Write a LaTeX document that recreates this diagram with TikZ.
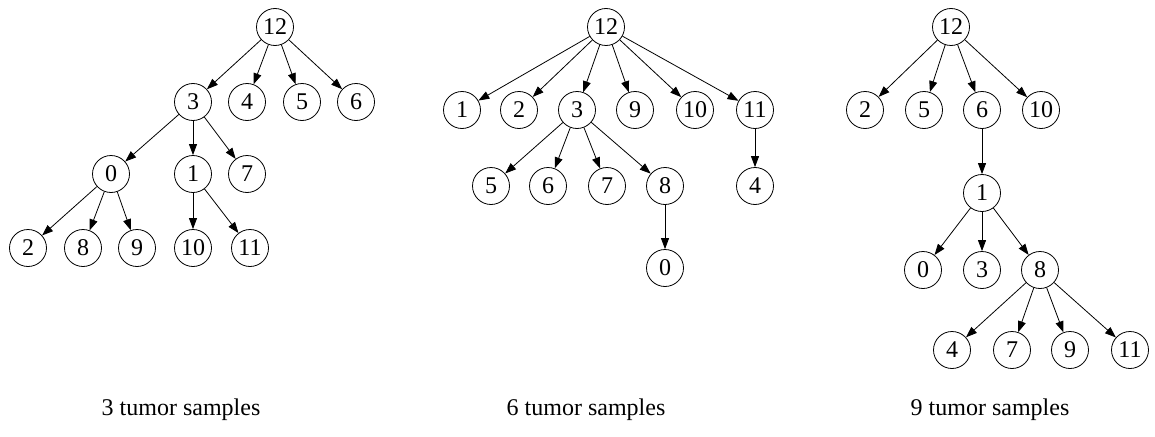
\documentclass[tikz,border=0pt]{standalone}
\usepackage{fontspec}
\setmainfont{Liberation Serif}
\usetikzlibrary{arrows.meta}
\tikzset{
  tn/.style={draw, circle, minimum size=37pt, inner sep=0pt, line width=0.8pt, font=\fontsize{24}{26}\selectfont},
  edge/.style={line width=0.8pt, -{Triangle[length=11pt,width=8pt]}},
  captext/.style={font=\fontsize{24}{28}\selectfont, anchor=center}
}
\begin{document}
\begin{tikzpicture}[x=1pt,y=-1pt]
\useasboundingbox (0,0) rectangle (1155,436);
% Tree 1
\node[tn] (a12) at (275,27) {12};
\node[tn] (a3) at (193,102) {3};
\node[tn] (a4) at (247,102) {4};
\node[tn] (a5) at (302,102) {5};
\node[tn] (a6) at (356,102) {6};
\node[tn] (a0) at (111,174) {0};
\node[tn] (a1) at (193,174) {1};
\node[tn] (a7) at (247,174) {7};
\node[tn] (a2) at (28,248) {2};
\node[tn] (a8) at (83,248) {8};
\node[tn] (a9) at (137,248) {9};
\node[tn] (a10) at (193,248) {10};
\node[tn] (a11) at (250,248) {11};
\foreach \s/\t in {a12/a3,a12/a4,a12/a5,a12/a6,a3/a0,a3/a1,a3/a7,a0/a2,a0/a8,a0/a9,a1/a10,a1/a11}
  \draw[edge] (\s) -- (\t);
\node[captext] (c1) at (181,410) {3 tumor samples};
% Tree 2
\node[tn] (b12) at (606,27) {12};
\node[tn] (b1) at (462,110) {1};
\node[tn] (b2) at (519,110) {2};
\node[tn] (b3) at (577,110) {3};
\node[tn] (b9) at (635,110) {9};
\node[tn] (b10) at (695,110) {10};
\node[tn] (b11) at (755,110) {11};
\node[tn] (b5) at (491,186) {5};
\node[tn] (b6) at (548,186) {6};
\node[tn] (b7) at (607,186) {7};
\node[tn] (b8) at (665,186) {8};
\node[tn] (b4) at (755,186) {4};
\node[tn] (b0) at (665,268) {0};
\foreach \s/\t in {b12/b1,b12/b2,b12/b3,b12/b9,b12/b10,b12/b11,b3/b5,b3/b6,b3/b7,b3/b8,b8/b0,b11/b4}
  \draw[edge] (\s) -- (\t);
\node[captext] (c2) at (586,410) {6 tumor samples};
% Tree 3
\node[tn] (d12) at (951,27) {12};
\node[tn] (d2) at (865,110) {2};
\node[tn] (d5) at (924,110) {5};
\node[tn] (d6) at (982,110) {6};
\node[tn] (d10) at (1041,110) {10};
\node[tn] (d1) at (982,193) {1};
\node[tn] (d0) at (923,270) {0};
\node[tn] (d3) at (982,270) {3};
\node[tn] (d8) at (1040,270) {8};
\node[tn] (d4) at (952,350) {4};
\node[tn] (d7) at (1012,350) {7};
\node[tn] (d9) at (1070,350) {9};
\node[tn] (d11) at (1130,350) {11};
\foreach \s/\t in {d12/d2,d12/d5,d12/d6,d12/d10,d6/d1,d1/d0,d1/d3,d1/d8,d8/d4,d8/d7,d8/d9,d8/d11}
  \draw[edge] (\s) -- (\t);
\node[captext] (c3) at (990,410) {9 tumor samples};
\end{tikzpicture}
\end{document}
